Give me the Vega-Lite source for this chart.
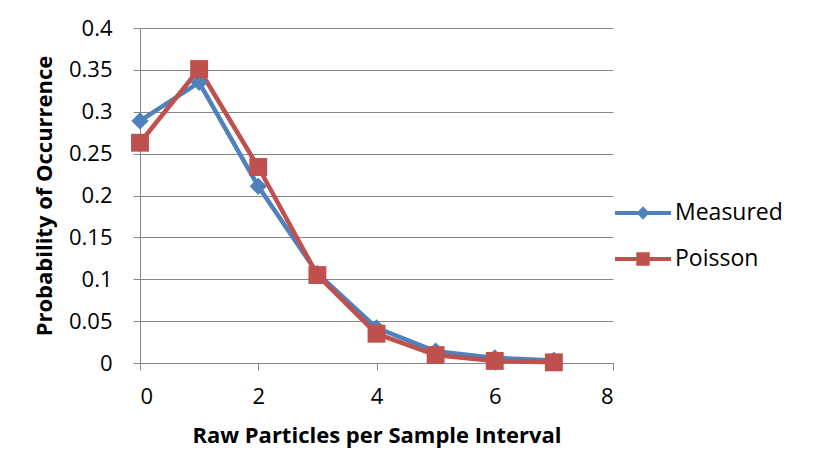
{
  "$schema": "https://vega.github.io/schema/vega-lite/v6.json",
  "width": 473,
  "height": 335,
  "autosize": {"type": "none"},
  "padding": {"left": 140, "top": 28, "right": 200, "bottom": 95},
  "background": "white",
  "config": {
    "view": {"stroke": null},
    "font": "Open Sans",
    "axis": {
      "labelFont": "Open Sans",
      "labelFontSize": 22,
      "labelColor": "black",
      "titleFont": "Open Sans",
      "titleFontSize": 22,
      "titleFontWeight": "bold",
      "titleColor": "black",
      "domainColor": "#868686",
      "tickColor": "#868686",
      "gridColor": "#868686",
      "tickSize": 7
    }
  },
  "data": {
    "values": [
      {"x": 0, "p": 0.289, "series": "Measured"},
      {"x": 1, "p": 0.335, "series": "Measured"},
      {"x": 2, "p": 0.211, "series": "Measured"},
      {"x": 3, "p": 0.107, "series": "Measured"},
      {"x": 4, "p": 0.042, "series": "Measured"},
      {"x": 5, "p": 0.014, "series": "Measured"},
      {"x": 6, "p": 0.006, "series": "Measured"},
      {"x": 7, "p": 0.003, "series": "Measured"},
      {"x": 0, "p": 0.263, "series": "Poisson"},
      {"x": 1, "p": 0.351, "series": "Poisson"},
      {"x": 2, "p": 0.234, "series": "Poisson"},
      {"x": 3, "p": 0.105, "series": "Poisson"},
      {"x": 4, "p": 0.035, "series": "Poisson"},
      {"x": 5, "p": 0.0095, "series": "Poisson"},
      {"x": 6, "p": 0.0025, "series": "Poisson"},
      {"x": 7, "p": 0.0008, "series": "Poisson"}
    ]
  },
  "encoding": {
    "x": {
      "field": "x",
      "type": "quantitative",
      "scale": {"domain": [0, 8], "nice": false},
      "axis": {
        "title": "Raw Particles per Sample Interval",
        "values": [0, 2, 4, 6, 8],
        "grid": false,
        "labelPadding": 16,
        "titlePadding": 18
      }
    },
    "y": {
      "field": "p",
      "type": "quantitative",
      "scale": {"domain": [0, 0.4], "nice": false},
      "axis": {
        "title": "Probability of Occurrence",
        "values": [0, 0.05, 0.1, 0.15, 0.2, 0.25, 0.3, 0.35, 0.4],
        "format": "~g",
        "grid": true,
        "labelPadding": 21,
        "titlePadding": 12
      }
    },
    "color": {
      "field": "series",
      "type": "nominal",
      "scale": {"domain": ["Measured", "Poisson"], "range": ["#4F81BD", "#C0504D"]},
      "legend": {
        "title": null,
        "orient": "none",
        "legendX": 475,
        "legendY": 157,
        "padding": 0,
        "labelFont": "Open Sans",
        "labelFontSize": 23,
        "labelColor": "black",
        "labelOffset": 4,
        "rowPadding": 6,
        "symbolSize": 3136,
        "symbolStrokeWidth": 0,
        "encode": {
          "symbols": {
            "update": {
              "shape": {"signal": "datum.value == 'Measured' ? 'M-1,-0.075H-0.16L0,-0.24L0.16,-0.075H1V0.075H0.16L0,0.24L-0.16,0.075H-1Z' : 'M-1,-0.075H-0.24V-0.24H0.24V-0.075H1V0.075H0.24V0.24H-0.24V0.075H-1Z'"},
              "fill": {"signal": "datum.value == 'Measured' ? '#4F81BD' : '#C0504D'"},
              "fillOpacity": {"value": 1},
              "strokeWidth": {"value": 0},
              "size": {"value": 3136}
            }
          }
        }
      }
    }
  },
  "layer": [
    {
      "mark": {"type": "line", "strokeWidth": 4.5}
    },
    {
      "transform": [{"filter": "datum.series == 'Measured'"}],
      "mark": {"type": "point", "filled": true, "opacity": 1, "shape": "diamond", "size": 300}
    },
    {
      "transform": [{"filter": "datum.series == 'Poisson'"}],
      "mark": {"type": "point", "filled": true, "opacity": 1, "shape": "square", "size": 320}
    }
  ]
}
